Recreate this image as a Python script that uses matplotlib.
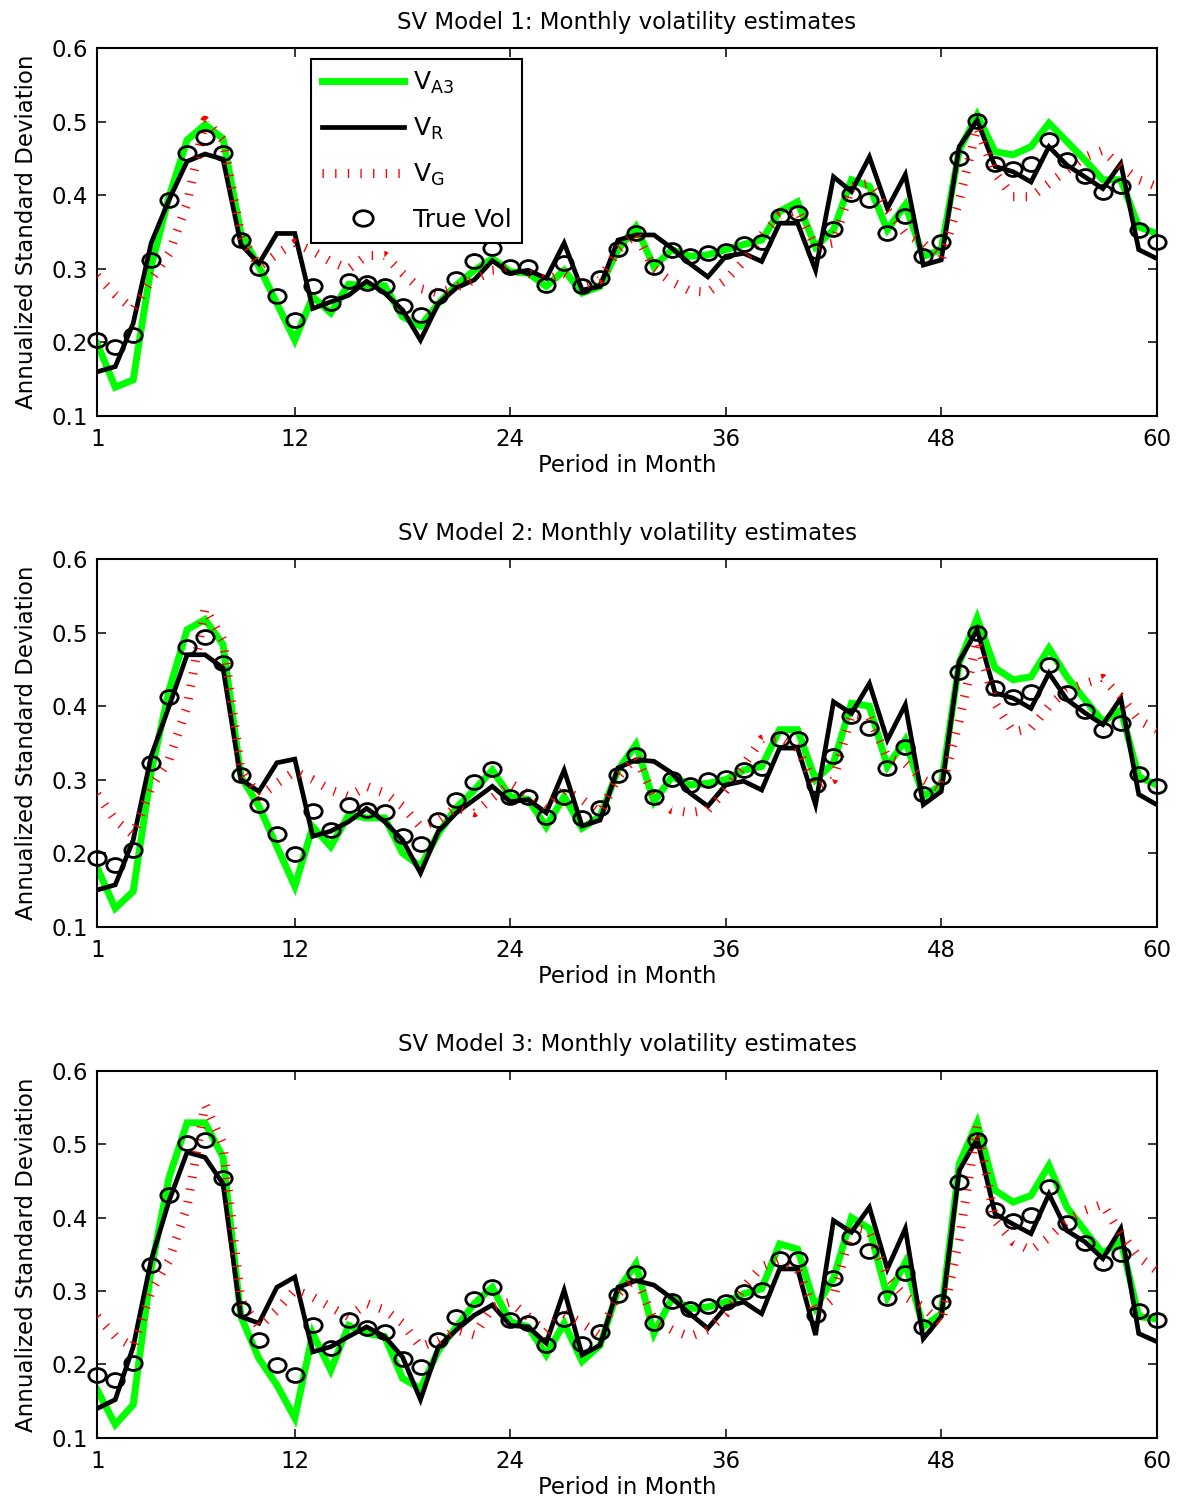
import numpy as np
import matplotlib
matplotlib.use('Agg')
import matplotlib.pyplot as plt
from matplotlib.path import Path
from matplotlib.lines import Line2D

# ---------------- data ----------------
months = np.arange(1, 61)
titles = ["SV Model 1: Monthly volatility estimates",
          "SV Model 2: Monthly volatility estimates",
          "SV Model 3: Monthly volatility estimates"]
xticks = [1, 12, 24, 36, 48, 60]
yticks = [0.1, 0.2, 0.3, 0.4, 0.5, 0.6]
legend_labels = [r'$\mathregular{V_{A3}}$', r'$\mathregular{V_{R}}$',
                 r'$\mathregular{V_{G}}$', 'True Vol']

true1 = [0.203, 0.194, 0.210, 0.312, 0.394, 0.457, 0.479, 0.457, 0.339, 0.301,
         0.263, 0.230, 0.277, 0.253, 0.283, 0.281, 0.277, 0.249, 0.237, 0.263,
         0.286, 0.310, 0.328, 0.303, 0.303, 0.278, 0.308, 0.277, 0.287, 0.327,
         0.349, 0.302, 0.325, 0.317, 0.322, 0.324, 0.334, 0.337, 0.372, 0.376,
         0.324, 0.354, 0.402, 0.394, 0.348, 0.372, 0.317, 0.336, 0.450, 0.501,
         0.443, 0.435, 0.443, 0.475, 0.448, 0.426, 0.404, 0.412, 0.353, 0.336]
va3_1 = [0.198, 0.139, 0.149, 0.303, 0.398, 0.475, 0.496, 0.477, 0.348, 0.303,
         0.253, 0.203, 0.262, 0.240, 0.279, 0.277, 0.277, 0.235, 0.222, 0.253,
         0.278, 0.298, 0.314, 0.296, 0.294, 0.276, 0.298, 0.267, 0.276, 0.326,
         0.357, 0.303, 0.326, 0.317, 0.319, 0.326, 0.333, 0.339, 0.378, 0.391,
         0.330, 0.353, 0.421, 0.412, 0.353, 0.387, 0.317, 0.326, 0.461, 0.509,
         0.459, 0.455, 0.466, 0.498, 0.473, 0.448, 0.421, 0.421, 0.357, 0.348]
vr_1 = [0.160, 0.167, 0.226, 0.335, 0.394, 0.446, 0.456, 0.449, 0.333, 0.307,
        0.348, 0.348, 0.246, 0.255, 0.264, 0.283, 0.267, 0.244, 0.203, 0.253,
        0.274, 0.285, 0.311, 0.294, 0.298, 0.287, 0.335, 0.271, 0.276, 0.339,
        0.346, 0.346, 0.328, 0.307, 0.289, 0.317, 0.321, 0.310, 0.362, 0.362,
        0.298, 0.425, 0.405, 0.452, 0.382, 0.428, 0.305, 0.312, 0.466, 0.502,
        0.439, 0.432, 0.418, 0.466, 0.441, 0.425, 0.409, 0.443, 0.326, 0.314]
vg_1 = [0.290, 0.265, 0.245, 0.285, 0.321, 0.389, 0.502, 0.475, 0.345, 0.303,
        0.320, 0.335, 0.324, 0.310, 0.300, 0.318, 0.318, 0.294, 0.273, 0.267,
        0.275, 0.285, 0.298, 0.300, 0.294, 0.285, 0.294, 0.278, 0.285, 0.326,
        0.348, 0.300, 0.282, 0.270, 0.268, 0.285, 0.310, 0.345, 0.372, 0.380,
        0.330, 0.335, 0.412, 0.416, 0.380, 0.348, 0.335, 0.312, 0.393, 0.493,
        0.430, 0.398, 0.398, 0.416, 0.434, 0.452, 0.461, 0.439, 0.421, 0.412]

true2 = [0.193, 0.184, 0.205, 0.323, 0.413, 0.481, 0.494, 0.459, 0.307, 0.265,
         0.226, 0.199, 0.258, 0.231, 0.265, 0.259, 0.256, 0.223, 0.213, 0.245,
         0.272, 0.297, 0.315, 0.277, 0.277, 0.249, 0.277, 0.248, 0.262, 0.307,
         0.333, 0.276, 0.301, 0.293, 0.299, 0.302, 0.313, 0.316, 0.355, 0.356,
         0.293, 0.332, 0.386, 0.371, 0.316, 0.345, 0.280, 0.304, 0.446, 0.500,
         0.425, 0.413, 0.420, 0.456, 0.418, 0.393, 0.368, 0.377, 0.308, 0.292]
va3_2 = [0.180, 0.125, 0.148, 0.310, 0.422, 0.504, 0.518, 0.484, 0.304, 0.264,
         0.209, 0.155, 0.236, 0.209, 0.252, 0.248, 0.248, 0.200, 0.182, 0.227,
         0.262, 0.286, 0.313, 0.277, 0.273, 0.236, 0.277, 0.234, 0.250, 0.313,
         0.348, 0.270, 0.304, 0.293, 0.295, 0.300, 0.313, 0.318, 0.368, 0.368,
         0.300, 0.323, 0.404, 0.400, 0.318, 0.354, 0.277, 0.293, 0.459, 0.520,
         0.452, 0.436, 0.440, 0.479, 0.440, 0.409, 0.379, 0.395, 0.304, 0.293]
vr_2 = [0.150, 0.157, 0.218, 0.332, 0.400, 0.470, 0.470, 0.452, 0.300, 0.284,
        0.323, 0.328, 0.223, 0.230, 0.243, 0.261, 0.243, 0.218, 0.173, 0.230,
        0.255, 0.273, 0.291, 0.270, 0.273, 0.255, 0.313, 0.237, 0.245, 0.316,
        0.327, 0.325, 0.309, 0.282, 0.264, 0.293, 0.298, 0.286, 0.343, 0.343,
        0.266, 0.406, 0.390, 0.431, 0.354, 0.402, 0.266, 0.284, 0.461, 0.504,
        0.418, 0.411, 0.397, 0.445, 0.409, 0.391, 0.375, 0.411, 0.280, 0.266]
vg_2 = [0.280, 0.245, 0.225, 0.290, 0.327, 0.400, 0.533, 0.490, 0.313, 0.277,
        0.295, 0.311, 0.300, 0.286, 0.277, 0.291, 0.282, 0.264, 0.236, 0.245,
        0.262, 0.255, 0.275, 0.295, 0.280, 0.261, 0.286, 0.273, 0.255, 0.304,
        0.331, 0.277, 0.259, 0.255, 0.259, 0.286, 0.320, 0.355, 0.359, 0.343,
        0.290, 0.300, 0.390, 0.385, 0.330, 0.322, 0.300, 0.287, 0.380, 0.490,
        0.404, 0.365, 0.370, 0.400, 0.422, 0.431, 0.438, 0.413, 0.381, 0.368]

true3 = [0.186, 0.179, 0.202, 0.336, 0.431, 0.501, 0.505, 0.454, 0.276, 0.233,
         0.199, 0.186, 0.253, 0.222, 0.260, 0.249, 0.244, 0.208, 0.197, 0.233,
         0.264, 0.289, 0.305, 0.260, 0.257, 0.226, 0.262, 0.228, 0.244, 0.294,
         0.324, 0.257, 0.286, 0.276, 0.279, 0.285, 0.299, 0.301, 0.343, 0.343,
         0.267, 0.317, 0.373, 0.354, 0.291, 0.325, 0.251, 0.285, 0.449, 0.506,
         0.410, 0.395, 0.403, 0.442, 0.393, 0.366, 0.338, 0.351, 0.273, 0.261]
va3_3 = [0.165, 0.118, 0.145, 0.330, 0.455, 0.529, 0.529, 0.482, 0.265, 0.208,
         0.172, 0.127, 0.242, 0.192, 0.253, 0.242, 0.238, 0.181, 0.167, 0.219,
         0.251, 0.283, 0.305, 0.258, 0.251, 0.213, 0.256, 0.204, 0.226, 0.301,
         0.337, 0.242, 0.290, 0.276, 0.278, 0.285, 0.296, 0.303, 0.364, 0.357,
         0.278, 0.317, 0.400, 0.385, 0.292, 0.339, 0.251, 0.269, 0.473, 0.529,
         0.437, 0.421, 0.430, 0.471, 0.414, 0.382, 0.351, 0.369, 0.265, 0.262]
vr_3 = [0.140, 0.152, 0.224, 0.342, 0.423, 0.489, 0.482, 0.446, 0.265, 0.256,
        0.305, 0.319, 0.217, 0.224, 0.238, 0.251, 0.238, 0.210, 0.152, 0.224,
        0.247, 0.267, 0.281, 0.253, 0.251, 0.229, 0.301, 0.213, 0.226, 0.305,
        0.314, 0.308, 0.290, 0.269, 0.249, 0.278, 0.285, 0.269, 0.330, 0.330,
        0.240, 0.396, 0.380, 0.414, 0.330, 0.385, 0.235, 0.265, 0.464, 0.507,
        0.405, 0.391, 0.378, 0.432, 0.382, 0.367, 0.344, 0.385, 0.242, 0.231]
vg_3 = [0.265, 0.238, 0.224, 0.300, 0.342, 0.415, 0.554, 0.500, 0.287, 0.251,
        0.274, 0.301, 0.292, 0.278, 0.265, 0.283, 0.274, 0.256, 0.224, 0.233,
        0.247, 0.240, 0.278, 0.285, 0.265, 0.244, 0.269, 0.256, 0.240, 0.296,
        0.319, 0.260, 0.247, 0.238, 0.247, 0.269, 0.305, 0.333, 0.342, 0.330,
        0.270, 0.290, 0.387, 0.382, 0.319, 0.292, 0.278, 0.256, 0.370, 0.525,
        0.396, 0.367, 0.355, 0.373, 0.396, 0.410, 0.418, 0.378, 0.346, 0.328]

panels = [(true1, va3_1, vr_1, vg_1),
          (true2, va3_2, vr_2, vg_2),
          (true3, va3_3, vr_3, vg_3)]

# ---------------- style ----------------
plt.rcParams['font.family'] = ['DejaVu Sans']
plt.rcParams['font.size'] = 16.5
plt.rcParams['mathtext.default'] = 'regular'
FS = 16.5
LFS = 18

W, H = 1180, 1503
fig = plt.figure(figsize=(W / 100, H / 100), dpi=100)
fig.patch.set_facecolor('white')

rects_px = [(97.3, 48.1, 1156.7, 415.9),
            (97.3, 559.2, 1156.7, 926.7),
            (97.3, 1070.7, 1156.7, 1437.8)]

circ = Path.unit_circle()
ell = Path(circ.vertices * np.array([1.0, 0.8]), circ.codes)

GREEN = '#00ff00'
RED = '#ff0000'
red_style = (0, (0.15, 1.25))

for i, ((tv, va3, vr, vg), (l, t, r, b)) in enumerate(zip(panels, rects_px)):
    ax = fig.add_axes([l / W, 1 - b / H, (r - l) / W, (b - t) / H])
    ax.plot(months, va3, color=GREEN, lw=5.0, solid_joinstyle='miter', zorder=2)
    ax.plot(months, vr, color='black', lw=3.4, solid_joinstyle='miter', zorder=3)
    ax.plot(months, vg, color=RED, lw=6.5, linestyle=red_style,
            dash_capstyle='butt', zorder=4)
    ax.plot(months, tv, linestyle='none', marker=ell, ms=12.5, mfc='none',
            mec='black', mew=2.0, zorder=5, clip_on=False)

    ax.set_xlim(1, 60)
    ax.set_ylim(0.1, 0.6)
    ax.set_xticks(xticks)
    ax.set_yticks(yticks)
    ax.set_yticklabels([f"{v:.1f}" for v in yticks])
    ax.tick_params(direction='in', length=6.5, width=1.1, top=True, right=True,
                   labelsize=FS)
    ax.tick_params(axis='x', pad=8.5)
    ax.tick_params(axis='y', pad=6.5)
    for s in ax.spines.values():
        s.set_linewidth(1.5)
    ax.set_title(titles[i], fontsize=FS, pad=14)
    ax.set_xlabel('Period in Month', fontsize=FS)
    ax.xaxis.set_label_coords(0.5, -0.104)
    ax.set_ylabel('Annualized Standard Deviation', fontsize=FS)
    ax.yaxis.set_label_coords(-0.056, 0.5)

    if i == 0:
        handles = [Line2D([], [], color=GREEN, lw=5.0),
                   Line2D([], [], color='black', lw=3.4),
                   Line2D([], [], color=RED, lw=6.5, linestyle=red_style,
                          dash_capstyle='butt'),
                   Line2D([], [], linestyle='none', marker=ell, ms=14,
                          mfc='none', mec='black', mew=2.0)]
        leg = ax.legend(handles, legend_labels, loc='upper left',
                        bbox_to_anchor=((311 - l) / (r - l), (b - 59) / (b - t)),
                        borderaxespad=0, fontsize=LFS, handlelength=3.3,
                        handletextpad=0.36, labelspacing=0.8, borderpad=0.42,
                        fancybox=False, framealpha=1, edgecolor='black',
                        numpoints=1)
        leg.get_frame().set_linewidth(1.5)
        leg.set_zorder(10)

fig.savefig('out.png', dpi=100, facecolor='white')
